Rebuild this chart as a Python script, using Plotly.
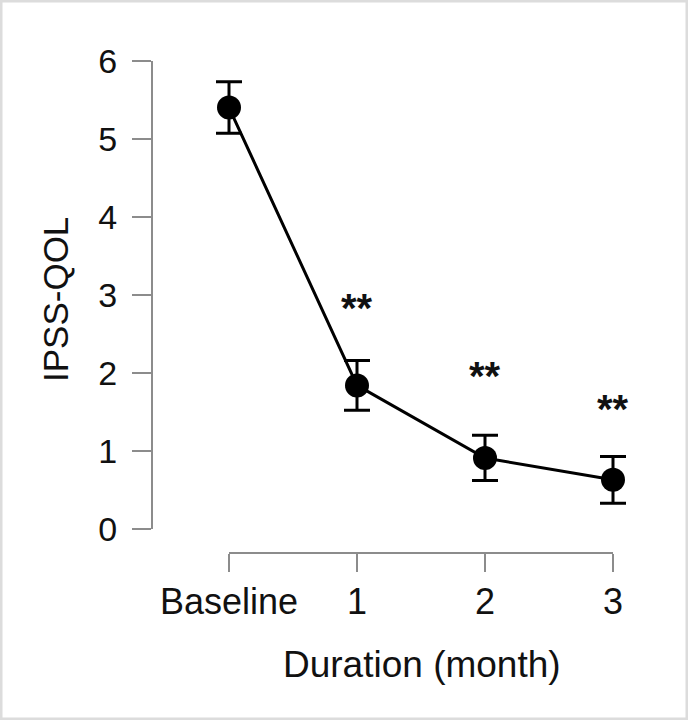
import plotly.graph_objects as go

# ---- data ----
categories = ["Baseline", "1", "2", "3"]
x_pos = [0, 1, 2, 3]
qol_mean = [5.40, 1.84, 0.91, 0.63]
qol_err = [0.33, 0.32, 0.29, 0.30]
sig_labels = ["", "**", "**", "**"]
sig_y = [None, 2.93, 2.06, 1.64]
y_ticks = [0, 1, 2, 3, 4, 5, 6]

W, H = 688, 720
FONT = "Liberation Sans, Arial, sans-serif"
AXIS_COLOR = "#8c8c8c"

# pixel layout of the x axis (category 0 at X0px, category 3 at X1px)
X0px, X1px = 229, 613
PAD = 30  # extra px so error-bar caps at the ends are not clipped
unit = (X1px - X0px) / (x_pos[-1] - x_pos[0])
data_range = [x_pos[0] - PAD / unit, x_pos[-1] + PAD / unit]

fig = go.Figure()
# invisible trace carrying the displayed x axis (drawn first, underneath)
fig.add_trace(go.Scatter(
    x=x_pos, y=[None] * len(x_pos), xaxis="x2", yaxis="y",
    mode="markers", showlegend=False, hoverinfo="skip",
))
fig.add_trace(go.Scatter(
    x=x_pos, y=qol_mean, xaxis="x", yaxis="y",
    mode="lines+markers",
    line=dict(color="black", width=3),
    marker=dict(color="black", size=24),
    error_y=dict(type="data", array=qol_err, visible=True,
                 color="black", thickness=3, width=13),
    cliponaxis=False,
    showlegend=False,
    hoverinfo="skip",
))

for xi, lab, yi in zip(x_pos, sig_labels, sig_y):
    if lab and yi is not None:
        fig.add_annotation(x=xi, y=yi, xref="x", yref="y", text=lab,
                           showarrow=False, yanchor="middle", yshift=-8,
                           font=dict(family=FONT, size=40, color="#111",
                                     weight="bold"))

fig.update_layout(
    width=W, height=H, autosize=False,
    margin=dict(l=0, r=0, t=0, b=0, pad=0, autoexpand=False),
    paper_bgcolor="white", plot_bgcolor="rgba(0,0,0,0)",
    font=dict(family=FONT, size=35, color="#111"),
    xaxis=dict(
        domain=[(X0px - PAD) / W, (X1px + PAD) / W], range=data_range,
        anchor="y", automargin=False, visible=False,
        showgrid=False, zeroline=False,
    ),
    xaxis2=dict(
        domain=[X0px / W, X1px / W], range=[x_pos[0], x_pos[-1]],
        anchor="free", position=1 - 553 / H, automargin=False,
        tickmode="array", tickvals=x_pos, ticktext=categories,
        tickfont=dict(size=36),
        showline=True, linecolor=AXIS_COLOR, linewidth=2,
        ticks="outside", ticklen=18, tickwidth=2, tickcolor=AXIS_COLOR,
        ticklabelstandoff=-1,
        showgrid=False, zeroline=False,
    ),
    yaxis=dict(
        domain=[1 - 529 / H, 1 - 60.7 / H], range=[0, 6],
        anchor="free", position=152 / W, automargin=False,
        tickmode="array", tickvals=y_ticks,
        tickfont=dict(size=34),
        showline=True, linecolor=AXIS_COLOR, linewidth=2,
        ticks="outside", ticklen=19, tickwidth=2, tickcolor=AXIS_COLOR,
        ticklabelstandoff=8,
        showgrid=False, zeroline=False,
    ),
    annotations=list(fig.layout.annotations) + [
        dict(text="IPSS-QOL", x=55 / W, y=1 - 300 / H, xref="paper", yref="paper",
             showarrow=False, textangle=-90, xanchor="center", yanchor="middle",
             font=dict(family=FONT, size=35, color="#111")),
        dict(text="Duration (month)", x=422 / W, y=1 - 664 / H, xref="paper", yref="paper",
             showarrow=False, xanchor="center", yanchor="middle",
             font=dict(family=FONT, size=37, color="#111")),
    ],
    shapes=[dict(type="rect", xref="paper", yref="paper", x0=0, x1=1, y0=0, y1=1,
                 line=dict(color="#dcdcdc", width=5), layer="above")],
)

fig.write_html(
    "out.html",
    config={"displayModeBar": False},
    post_script="document.documentElement.style.margin='0';document.body.style.margin='0';"
                "document.body.style.overflow='hidden';",
)
